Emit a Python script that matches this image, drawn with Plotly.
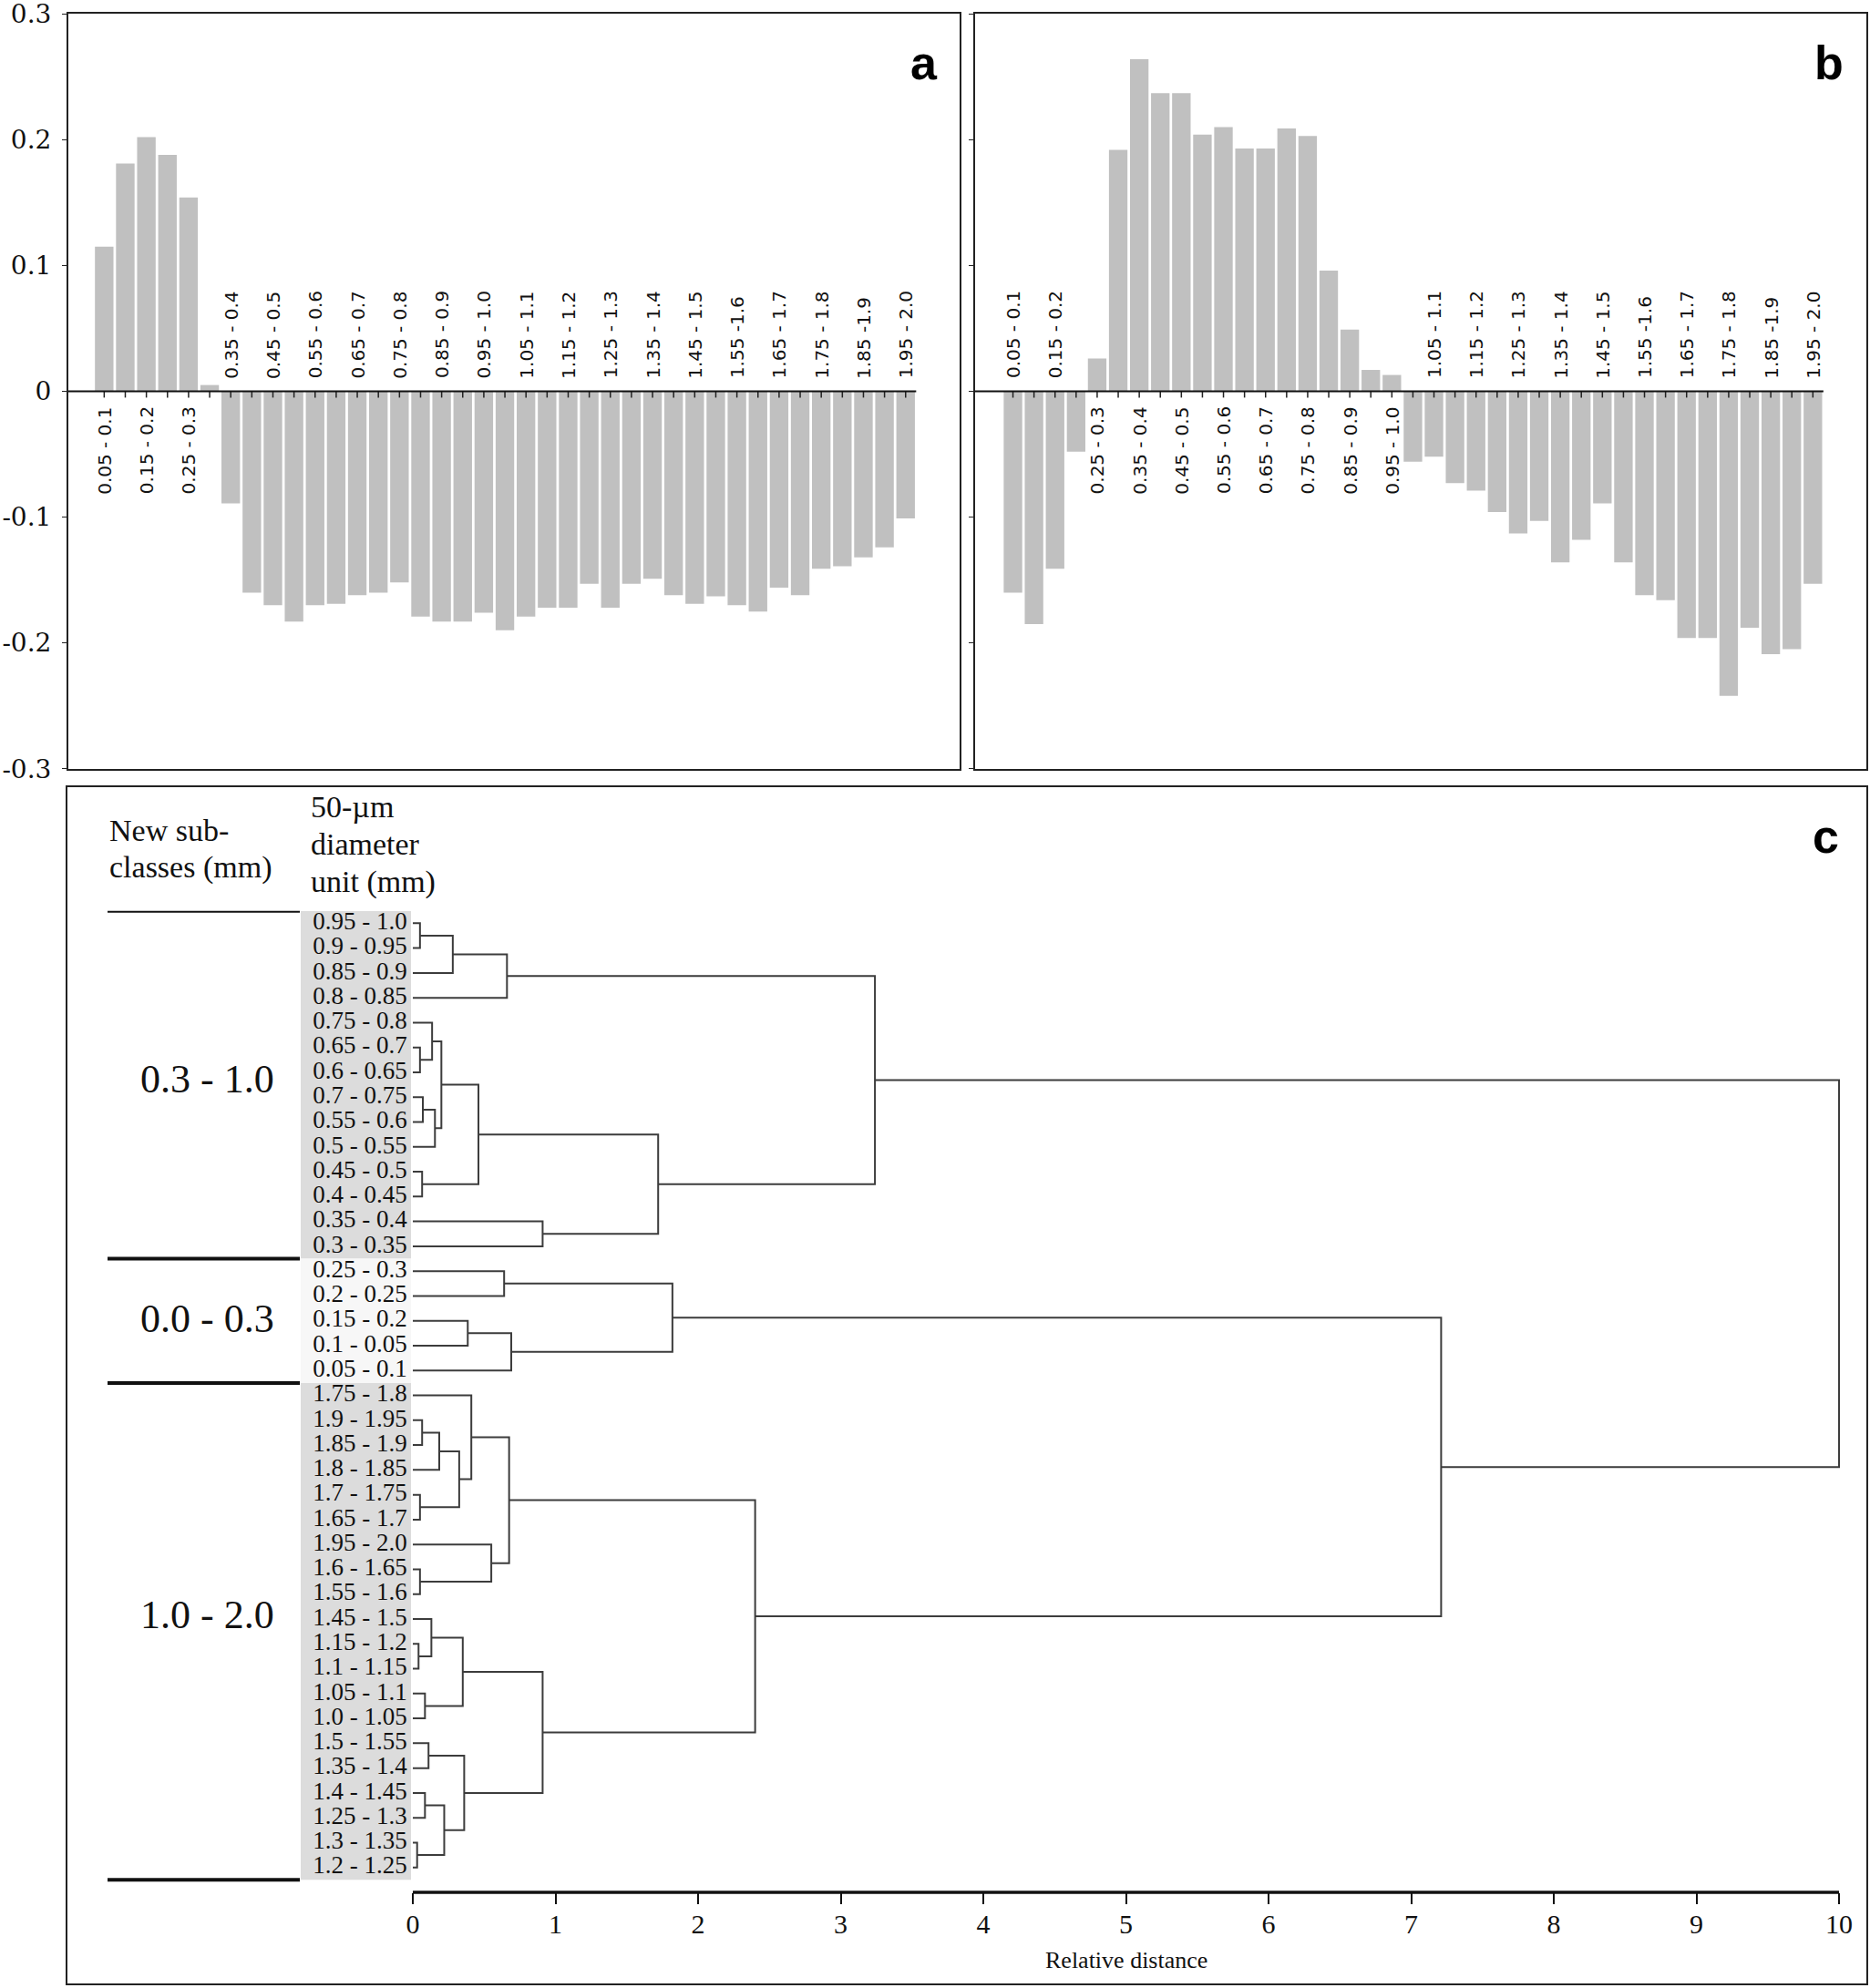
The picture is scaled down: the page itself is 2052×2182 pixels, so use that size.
import plotly.graph_objects as go

W, H = 2052, 2182

# ---- panels a / b : 50-um diameter classes ----
size_classes = ["0.05 - 0.1", "0.1 - 0.15", "0.15 - 0.2", "0.2 - 0.25", "0.25 - 0.3",
                "0.3 - 0.35", "0.35 - 0.4", "0.4 - 0.45", "0.45 - 0.5", "0.5 - 0.55",
                "0.55 - 0.6", "0.6 - 0.65", "0.65 - 0.7", "0.7 - 0.75", "0.75 - 0.8",
                "0.8 - 0.85", "0.85 - 0.9", "0.9 - 0.95", "0.95 - 1.0", "1.0 - 1.05",
                "1.05 - 1.1", "1.1 - 1.15", "1.15 - 1.2", "1.2 - 1.25", "1.25 - 1.3",
                "1.3 - 1.35", "1.35 - 1.4", "1.4 - 1.45", "1.45 - 1.5", "1.5 - 1.55",
                "1.55 -1.6", "1.6 - 1.65", "1.65 - 1.7", "1.7 - 1.75", "1.75 - 1.8",
                "1.8 - 1.85", "1.85 -1.9", "1.9 - 1.95", "1.95 - 2.0"]

# only every second class is labelled on the charts
labelled = [0, 2, 4, 6, 8, 10, 12, 14, 16, 18, 20, 22, 24, 26, 28, 30, 32, 34, 36, 38]

values_a = [0.115, 0.181, 0.202, 0.188, 0.154, 0.005, -0.089, -0.160, -0.170, -0.183,
            -0.170, -0.169, -0.162, -0.160, -0.152, -0.179, -0.183, -0.183, -0.176, -0.190,
            -0.179, -0.172, -0.172, -0.153, -0.172, -0.153, -0.149, -0.162, -0.169, -0.163,
            -0.170, -0.175, -0.156, -0.162, -0.141, -0.139, -0.132, -0.124, -0.101]

values_b = [-0.160, -0.185, -0.141, -0.048, 0.026, 0.192, 0.264, 0.237, 0.237, 0.204,
            0.210, 0.193, 0.193, 0.209, 0.203, 0.096, 0.049, 0.017, 0.013, -0.056,
            -0.052, -0.073, -0.079, -0.096, -0.113, -0.103, -0.136, -0.118, -0.089, -0.136,
            -0.162, -0.166, -0.196, -0.196, -0.242, -0.188, -0.209, -0.205, -0.153]

y_ticks = [-0.3, -0.2, -0.1, 0, 0.1, 0.2, 0.3]
y_ticktext = ["-0.3", "-0.2", "-0.1", "0", "0.1", "0.2", "0.3"]

# ---- panel c : dendrogram ----
leaf_labels = ["0.95 - 1.0", "0.9 - 0.95", "0.85 - 0.9", "0.8 - 0.85", "0.75 - 0.8",
               "0.65 - 0.7", "0.6 - 0.65", "0.7 - 0.75", "0.55 - 0.6", "0.5 - 0.55",
               "0.45 - 0.5", "0.4 - 0.45", "0.35 - 0.4", "0.3 - 0.35",
               "0.25 - 0.3", "0.2 - 0.25", "0.15 - 0.2", "0.1 - 0.05", "0.05 - 0.1",
               "1.75 - 1.8", "1.9 - 1.95", "1.85 - 1.9", "1.8 - 1.85", "1.7 - 1.75",
               "1.65 - 1.7", "1.95 - 2.0", "1.6 - 1.65", "1.55 - 1.6", "1.45 - 1.5",
               "1.15 - 1.2", "1.1 - 1.15", "1.05 - 1.1", "1.0 - 1.05", "1.5 - 1.55",
               "1.35 - 1.4", "1.4 - 1.45", "1.25 - 1.3", "1.3 - 1.35", "1.2 - 1.25"]

# merge k creates node len(leaf_labels) + k (scipy style)
merge_left = [0, 39, 40, 5, 4, 7, 44, 43, 10, 46, 12, 48, 41,
              14, 16, 53, 52,
              20, 56, 23, 57, 19, 26, 25, 60, 29, 28, 31, 65, 33, 35, 37, 69, 68, 67, 63,
              55, 51]
merge_right = [1, 2, 3, 6, 42, 8, 9, 45, 11, 47, 13, 49, 50,
               15, 17, 18, 54,
               21, 22, 24, 58, 59, 27, 61, 62, 30, 64, 32, 66, 34, 36, 38, 70, 71, 72, 73,
               74, 75]
merge_height = [0.05, 0.28, 0.66, 0.05, 0.135, 0.07, 0.155, 0.20, 0.065, 0.46, 0.91, 1.72, 3.24,
                0.64, 0.385, 0.69, 1.82,
                0.065, 0.185, 0.05, 0.325, 0.41, 0.05, 0.55, 0.675, 0.04, 0.13, 0.085, 0.35,
                0.11, 0.085, 0.03, 0.22, 0.36, 0.91, 2.40,
                7.21, 10.0]

group_names = ["0.3 - 1.0", "0.0 - 0.3", "1.0 - 2.0"]
group_bounds = [-0.5, 13.5, 18.5, 38.5]
distance_ticks = [0, 1, 2, 3, 4, 5, 6, 7, 8, 9, 10]

SERIF = "Liberation Serif"
BAR = "#c0c0c0"
LINE = "#3c3c3c"


def px_x(p):
    return p / W


def px_y(p):
    return (H - p) / H


fig = go.Figure()
idx = list(range(len(size_classes)))

# small ticks on the zero line, then bars on top
for xa, ya, vals in [("x", "y", values_a), ("x2", "y2", values_b)]:
    tx, ty = [], []
    for i in idx:
        tx += [i, i, None]
        ty += [0, -0.005, None]
    fig.add_trace(go.Scatter(x=tx, y=ty, mode="lines", line=dict(color="#222", width=1.5),
                             xaxis=xa, yaxis=ya, hoverinfo="skip"))
    fig.add_trace(go.Bar(x=idx, y=vals, marker=dict(color=BAR, line=dict(width=0)),
                         xaxis=xa, yaxis=ya, hovertext=size_classes))
    fig.add_shape(type="line", xref=xa, yref=ya, x0=-2, x1=38.5, y0=0, y1=0,
                  line=dict(color="#111", width=2))
    for i in labelled:
        above = vals[i] < 0
        fig.add_annotation(x=i, y=0, xref=xa, yref=ya, text=size_classes[i], showarrow=False,
                           textangle=-90, yanchor="bottom" if above else "top",
                           yshift=12 if above else -15,
                           font=dict(family="DejaVu Sans", size=20, color="#111"))

# dendrogram
n = len(leaf_labels)
node_y = {i: float(i) for i in range(n)}
node_x = {i: 0.0 for i in range(n)}
sx, sy = [], []
for k, (a, b, h) in enumerate(zip(merge_left, merge_right, merge_height)):
    sx += [node_x[a], h, h, node_x[b], None]
    sy += [node_y[a], node_y[a], node_y[b], node_y[b], None]
    node_y[n + k] = (node_y[a] + node_y[b]) / 2
    node_x[n + k] = h
fig.add_trace(go.Scatter(x=sx, y=sy, mode="lines", line=dict(color=LINE, width=2),
                         xaxis="x3", yaxis="y3", hoverinfo="skip"))
fig.add_trace(go.Scatter(x=[-0.04] * n, y=list(range(n)), mode="text", text=leaf_labels,
                         textposition="middle left", cliponaxis=False,
                         textfont=dict(family=SERIF, size=27, color="#111"),
                         xaxis="x3", yaxis="y3", hoverinfo="skip"))

# grey label background, lighter for the 0.0 - 0.3 group
for g, col in enumerate(["#dcdcdc", "#f7f7f7", "#dcdcdc"]):
    fig.add_shape(type="rect", xref="paper", yref="y3", x0=px_x(330), x1=px_x(451),
                  y0=group_bounds[g], y1=group_bounds[g + 1], fillcolor=col,
                  line=dict(width=0), layer="below")
for b in group_bounds:
    fig.add_shape(type="line", xref="paper", yref="y3", x0=px_x(118), x1=px_x(329),
                  y0=b, y1=b, line=dict(color="#111", width=4))
for name, yc in zip(group_names, [1184, 1447, 1772]):
    fig.add_annotation(x=px_x(227), y=px_y(yc), xref="paper", yref="paper", text=name,
                       xanchor="center", yanchor="middle", showarrow=False,
                       font=dict(family=SERIF, size=44, color="#111"))

# distance axis line
fig.add_shape(type="line", xref="x3", yref="paper", x0=0, x1=10, y0=px_y(2077), y1=px_y(2077),
              line=dict(color="#111", width=3.5))
fig.add_annotation(x=5, y=px_y(2151), xref="x3", yref="paper", text="Relative distance",
                   xanchor="center", yanchor="middle", showarrow=False,
                   font=dict(family=SERIF, size=26, color="#111"))

# column headers, one line each
headers = [("New sub-", 118, 911), ("classes (mm)", 118, 952),
           ("50-µm", 339, 885), ("diameter", 339, 926), ("unit (mm)", 339, 968)]
for txt, xl, yc in headers:
    fig.add_annotation(x=px_x(xl), y=px_y(yc), xref="paper", yref="paper", xanchor="left",
                       yanchor="middle", text=txt, showarrow=False,
                       font=dict(family=SERIF, size=34, color="#111"))

# panel c frame
fig.add_shape(type="rect", xref="paper", yref="paper", x0=px_x(73), x1=px_x(2049),
              y0=px_y(2178), y1=px_y(863), line=dict(color="#222", width=2))

# panel letters
for txt, xr, yc in [("a", 1031, 69), ("b", 2025, 69), ("c", 2020, 918)]:
    fig.add_annotation(x=px_x(xr), y=px_y(yc), xref="paper", yref="paper", xanchor="right",
                       yanchor="middle", text="<b>" + txt + "</b>", showarrow=False,
                       font=dict(family="Liberation Sans", size=52, color="#000"))

# automargin off everywhere, otherwise tick labels near the edge shrink the plot area
frame = dict(showline=True, mirror=True, linecolor="#222", linewidth=2,
             showgrid=False, zeroline=False, automargin=False)
fig.update_layout(
    template="none",
    width=W, height=H, margin=dict(l=0, r=0, t=0, b=0, pad=0), autosize=False,
    paper_bgcolor="white", plot_bgcolor="white", showlegend=False, bargap=0.12,
    xaxis=dict(domain=[px_x(75), px_x(1053)], range=[-1.70, 40.56], ticks="",
               showticklabels=False, anchor="y", **frame),
    yaxis=dict(domain=[px_y(844), px_y(15)], range=[-0.3002, 0.3002], tickvals=y_ticks,
               ticktext=y_ticktext, ticks="outside", ticklen=5, tickcolor="#222",
               ticklabelstandoff=6, ticklabeloverflow="allow",
               tickfont=dict(family="DejaVu Serif", size=28, color="#111"), anchor="x", **frame),
    xaxis2=dict(domain=[px_x(1069.5), px_x(2048)], range=[-1.82, 40.54], ticks="",
                showticklabels=False, anchor="y2", **frame),
    yaxis2=dict(domain=[px_y(844), px_y(15)], range=[-0.3002, 0.3002], tickvals=y_ticks,
                ticks="outside", ticklen=5, tickcolor="#222", showticklabels=False,
                anchor="x2", **frame),
    xaxis3=dict(domain=[px_x(413.9), px_x(2041.5)], range=[-0.25, 10.15],
                tickvals=distance_ticks, ticks="outside", ticklen=12, tickwidth=2,
                tickcolor="#111", showline=False, showgrid=False, zeroline=False,
                automargin=False,
                ticklabelstandoff=-4, tickfont=dict(family=SERIF, size=30, color="#111"),
                anchor="y3"),
    yaxis3=dict(domain=[px_y(2077), px_y(999.7)], range=[39.0, -0.5], visible=False,
                automargin=False, anchor="x3"),
)

# pin the graph to the page corner so the page is exactly the window size
pin = ("var gd = document.getElementById('{plot_id}');"
       "document.documentElement.style.margin = '0';"
       "document.documentElement.style.overflow = 'hidden';"
       "document.body.style.margin = '0';"
       "document.body.style.overflow = 'hidden';"
       "gd.style.position = 'fixed'; gd.style.top = '0px'; gd.style.left = '0px';"
       "window.scrollTo(0, 0);")
fig.write_html("out.html", config={"displayModeBar": False}, post_script=pin)
